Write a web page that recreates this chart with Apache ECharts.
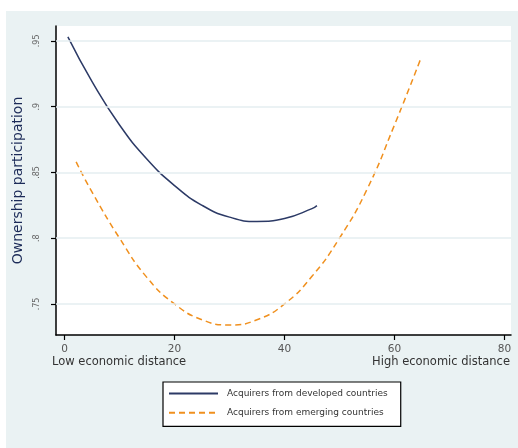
<!DOCTYPE html>
<html><head><meta charset="utf-8">
<script src="https://cdn.jsdelivr.net/npm/echarts@6/dist/echarts.min.js"></script>
<style>html,body{margin:0;padding:0;background:#ffffff;}#c{width:518px;height:448px;}</style>
</head><body><div id="c"></div>
<script>
const xTicks = [0, 20, 40, 60, 80];
const yTicks = [0.75, 0.8, 0.85, 0.9, 0.95];
const yTickLabels = ['.75', '.8', '.85', '.9', '.95'];
const developedX = [0.6, 5, 10, 15, 20, 25, 30, 35, 40, 45, 45.9];
const developedY = [0.953, 0.919, 0.886, 0.860, 0.840, 0.825, 0.816, 0.8127, 0.815, 0.8225, 0.8248];
const emergingX = [2.1, 5, 10, 15, 20, 25, 30, 35, 40, 45, 50, 55, 60, 64.7];
const emergingY = [0.858, 0.835, 0.800, 0.770, 0.750, 0.738, 0.734, 0.738, 0.750, 0.771, 0.800, 0.837, 0.886, 0.9356];
const seriesNames = ['Acquirers from developed countries', 'Acquirers from emerging countries'];
const yTitle = 'Ownership participation';
const xLowLabel = 'Low economic distance';
const xHighLabel = 'High economic distance';

const chart = echarts.init(document.getElementById('c'), null, {renderer: 'canvas'});
const FONT = 'DejaVu Sans, Liberation Sans, sans-serif';
chart.setOption({
  backgroundColor: '#ffffff',
  animation: false,
  grid: {left: 56, right: 7, top: 26, bottom: 113, show: true, backgroundColor: '#ffffff', borderWidth: 0},
  xAxis: {
    type: 'value', min: -1.56, max: 81.2,
    axisLine: {show: true, onZero: false, lineStyle: {color: '#000', width: 1.5}},
    axisTick: {show: true, length: 5, customValues: xTicks, lineStyle: {color: '#000', width: 1.2}},
    axisLabel: {customValues: xTicks, color: '#555', fontSize: 10.5, fontFamily: FONT, margin: 9},
    splitLine: {show: false}
  },
  yAxis: {
    type: 'value', min: 0.7264, max: 0.9613,
    name: yTitle, nameLocation: 'middle', nameGap: 24, nameRotate: 90,
    nameTextStyle: {color: '#1c2b58', fontSize: 14, fontFamily: FONT},
    axisLine: {show: true, onZero: false, lineStyle: {color: '#000', width: 1.5}},
    axisTick: {show: true, length: 5, customValues: yTicks, lineStyle: {color: '#000', width: 1.2}},
    axisLabel: {customValues: yTicks, rotate: 90, color: '#666', fontSize: 8, fontFamily: FONT, margin: 15,
      formatter: v => { const i = yTicks.findIndex(t => Math.abs(t - v) < 1e-6); return i >= 0 ? yTickLabels[i] : ''; }},
    splitLine: {show: false}
  },
  legend: {
    orient: 'vertical', left: 163, top: 382,
    backgroundColor: '#ffffff', borderColor: '#000', borderWidth: 1.2,
    padding: [6, 13, 8, 5], itemGap: 8, itemWidth: 49, itemHeight: 14,
    itemStyle: {opacity: 0},
    textStyle: {fontSize: 9, color: '#333', fontFamily: FONT, padding: [0, 0, 0, 4]},
    data: seriesNames
  },
  graphic: [
    {type: 'rect', left: 6, top: 11, z: -10, silent: true, shape: {width: 512, height: 437}, style: {fill: '#eaf2f3'}},
    {type: 'text', left: 52, top: 356, style: {text: xLowLabel, fill: '#333', font: '11.5px ' + FONT}},
    {type: 'text', right: 8, top: 356, style: {text: xHighLabel, fill: '#333', font: '11.5px ' + FONT}}
  ],
  series: [
    {
      name: '__grid', type: 'line', data: [], silent: true,
      markLine: {symbol: 'none', silent: true, label: {show: false},
        lineStyle: {color: '#e4eef0', type: 'solid', width: 1.5},
        data: yTicks.map(v => ({yAxis: v}))}
    },
    {
      name: seriesNames[0], type: 'line', smooth: 0.5, symbol: 'none',
      data: developedX.map((x, i) => [x, developedY[i]]),
      lineStyle: {color: '#2c3a66', width: 1.5}, itemStyle: {color: '#2c3a66'}
    },
    {
      name: seriesNames[1], type: 'line', smooth: 0.5, symbol: 'none',
      data: emergingX.map((x, i) => [x, emergingY[i]]),
      lineStyle: {color: '#f0901e', width: 1.5, type: [6, 4]}, itemStyle: {color: '#f0901e'}
    }
  ]
});
</script></body></html>
